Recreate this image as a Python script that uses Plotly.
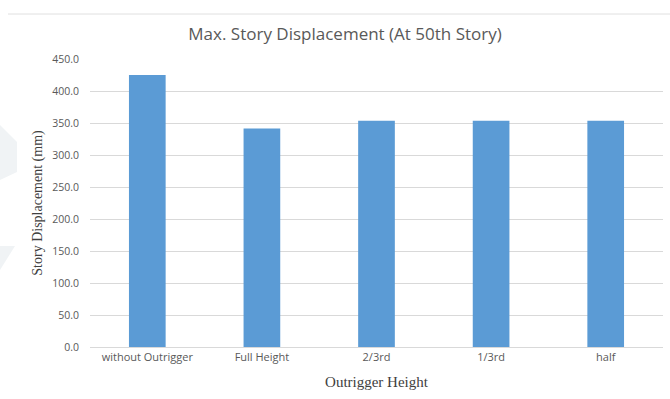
import plotly.graph_objects as go

categories = ["without Outrigger", "Full Height", "2/3rd", "1/3rd", "half"]
displacement = [425.0, 341.5, 353.5, 353.5, 353.5]
y_ticks = [0, 50, 100, 150, 200, 250, 300, 350, 400, 450]

W, H = 670, 399
ML, MR, MT, MB = 90, 7, 59, 52


def to_paper(px, py):
    """Convert a pixel position on the page to paper coordinates."""
    pw = W - ML - MR
    ph = H - MT - MB
    return (px - ML) / pw, (H - MB - py) / ph


def path_from(points):
    pts = [to_paper(x, y) for x, y in points]
    return "M " + " L ".join(f"{x:.4f},{y:.4f}" for x, y in pts) + " Z"


fig = go.Figure()
fig.add_trace(go.Bar(
    x=categories,
    y=displacement,
    marker=dict(color="#5B9BD5", line=dict(width=0)),
    width=0.32,
))

fig.update_layout(
    width=W,
    height=H,
    margin=dict(l=ML, r=MR, t=MT, b=MB),
    paper_bgcolor="white",
    plot_bgcolor="white",
    showlegend=False,
    title=dict(
        text="Max. Story Displacement (At 50th Story)",
        x=0.515, xanchor="center", y=0.915, yanchor="middle",
        font=dict(family="Open Sans, Carlito, sans-serif", size=17, color="#595959"),
    ),
    xaxis=dict(
        showgrid=False,
        showline=True,
        linecolor="#D9D9D9",
        linewidth=1,
        ticks="",
        tickfont=dict(family="Open Sans, sans-serif", size=11, color="#595959"),
        title=dict(
            text="Outrigger Height",
            font=dict(family="Liberation Serif, Times New Roman, serif", size=15, color="#404040"),
            standoff=13,
        ),
    ),
    yaxis=dict(
        range=[0, 450],
        tickvals=y_ticks,
        tickformat=".1f",
        showgrid=True,
        gridcolor="#D9D9D9",
        gridwidth=1,
        zeroline=False,
        ticks="",
        ticklabelstandoff=10,
        tickfont=dict(family="Open Sans, sans-serif", size=10.5, color="#595959"),
        title=dict(
            text="Story Displacement (mm)",
            font=dict(family="Liberation Serif, Times New Roman, serif", size=14, color="#404040"),
            standoff=6,
        ),
    ),
)

# thin border line across the top of the chart area
x0, ytop = to_paper(8, 14)
x1, _ = to_paper(670, 14)
fig.add_shape(type="line", xref="paper", yref="paper",
              x0=x0, x1=x1, y0=ytop, y1=ytop,
              line=dict(color="#E0E0E0", width=1), layer="below")

# faint background emblem at the left edge
for pts in ([(0, 125), (17, 142), (17, 172), (0, 180)],
            [(0, 246), (15, 246), (0, 270)]):
    fig.add_shape(type="path", xref="paper", yref="paper", path=path_from(pts),
                  fillcolor="#F0F3F5", line=dict(width=0), layer="below")

fig.write_html("out.html")
